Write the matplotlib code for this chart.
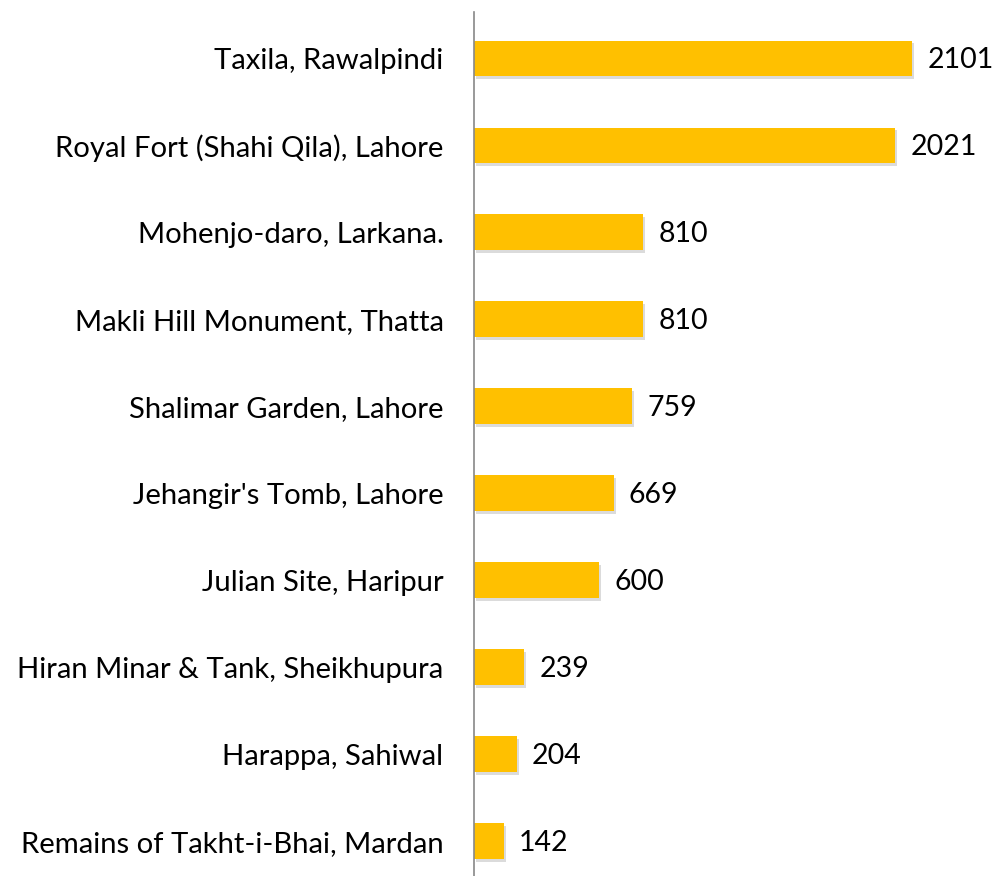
import matplotlib.pyplot as plt
import matplotlib.patheffects as pe

sites = ['Taxila, Rawalpindi', 'Royal Fort (Shahi Qila), Lahore', 'Mohenjo-daro, Larkana.',
         'Makli Hill Monument, Thatta', 'Shalimar Garden, Lahore', "Jehangir's Tomb, Lahore",
         'Julian Site, Haripur', 'Hiran Minar & Tank, Sheikhupura', 'Harappa, Sahiwal',
         'Remains of Takht-i-Bhai, Mardan']
visitors = [2101, 2021, 810, 810, 759, 669, 600, 239, 204, 142]

plt.rcParams['font.family'] = ['Lato', 'DejaVu Sans']

fig = plt.figure(figsize=(9.92, 8.76), dpi=100)
ax = fig.add_axes([0.478, 0.0, 0.5, 0.986])

ypos = list(range(len(sites)))
bars = ax.barh(ypos, visitors, height=0.41, color='#FFC000')
for b in bars:
    b.set_path_effects([pe.SimplePatchShadow(offset=(1.5, -2), shadow_rgbFace='#b0b0b0', alpha=0.45),
                        pe.Normal()])

for y, v in zip(ypos, visitors):
    ax.annotate(str(v), (v, y), xytext=(11, -1), textcoords='offset points',
                va='center', ha='left', fontsize=20.5, color='black')

ax.set_yticks(ypos)
ax.set_yticklabels(sites, fontsize=21.1)
ax.tick_params(axis='y', length=0, pad=22)
ax.set_xticks([])
ax.set_xlim(0, 2380)
ax.set_ylim(9.40, -0.53)

for s in ['top', 'right', 'bottom']:
    ax.spines[s].set_visible(False)
ax.spines['left'].set_color('#888888')
ax.spines['left'].set_linewidth(1.2)

fig.savefig('out.png', dpi=100)
